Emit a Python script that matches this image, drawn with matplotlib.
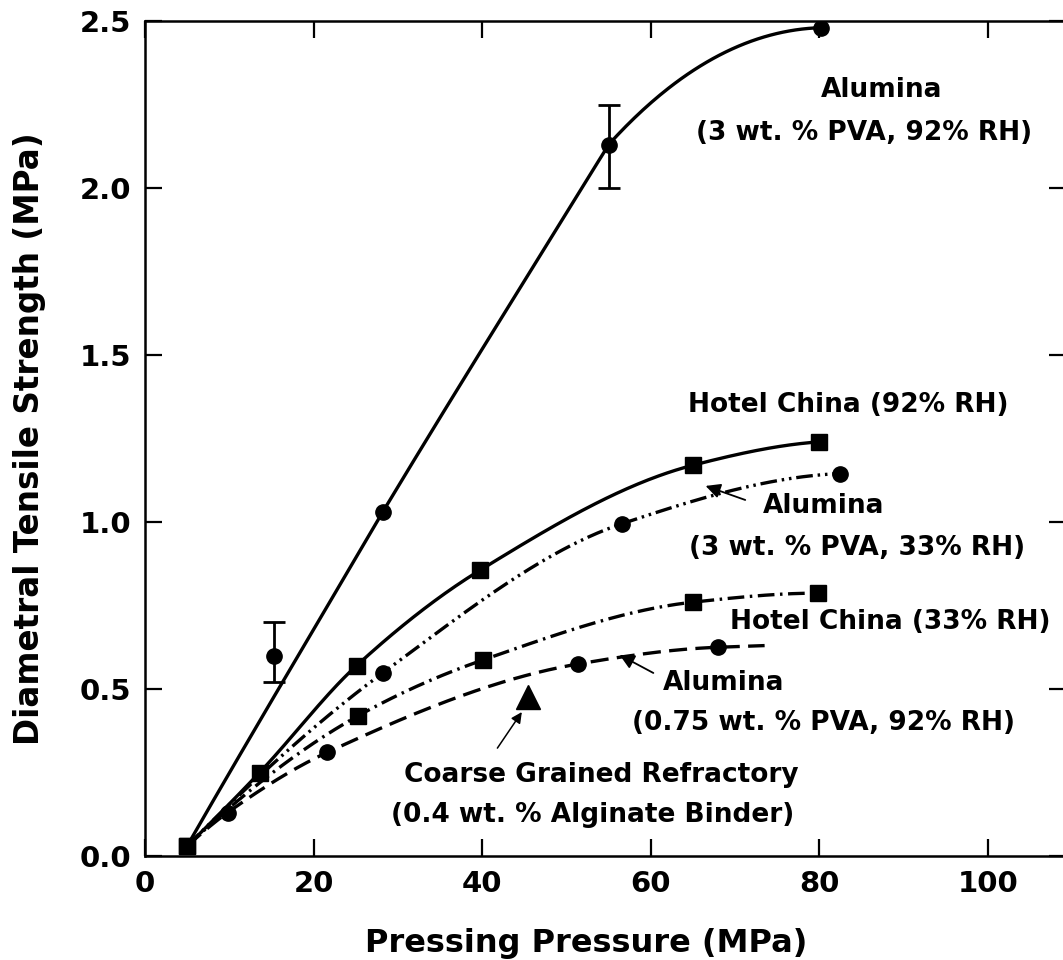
import numpy as np
import matplotlib.pyplot as plt

# Alumina (3 wt. % PVA, 92% RH)
al92_p = [5, 15.3, 28.2, 55.0, 80.2]
al92_s = [0.03, 0.60, 1.03, 2.13, 2.48]
al92_lo = [0, 0.08, 0, 0.13, 0]
al92_hi = [0, 0.10, 0, 0.12, 0]
al92_curve = [0, 2, 3, 4]          # points the drawn curve goes through

# Hotel China (92% RH)
hc92_p = [5, 13.6, 25.1, 39.7, 65.0, 80.0]
hc92_s = [0.03, 0.25, 0.57, 0.855, 1.17, 1.24]

# Alumina (3 wt. % PVA, 33% RH)
al33_p = [5, 28.2, 56.6, 82.4]
al33_s = [0.03, 0.548, 0.995, 1.145]

# Hotel China (33% RH)
hc33_p = [5, 25.3, 40.1, 65.0, 79.8]
hc33_s = [0.03, 0.42, 0.587, 0.76, 0.787]

# Alumina (0.75 wt. % PVA, 92% RH)
al075_p = [5, 9.8, 21.6, 51.4, 68.0]
al075_s = [0.03, 0.13, 0.31, 0.575, 0.625]
al075_end = 73.5

# Coarse grained refractory (0.4 wt. % alginate binder)
cgr_p = [45.4]
cgr_s = [0.476]


def smooth(x, y, xs, knee=False):
    """Monotone cubic through (x, y), linear past the last point.
    knee: each segment arrives with its own chord slope and leaves with the
    central slope, so a straight run can bend right at a data point."""
    x = np.asarray(x, float)
    y = np.asarray(y, float)
    xs = np.asarray(xs, float)
    h = np.diff(x)
    m = np.diff(y) / h
    n = len(x)

    def end(h0, h1, m0, m1):
        e = ((2 * h0 + h1) * m0 - h0 * m1) / (h0 + h1)
        if np.sign(e) != np.sign(m0):
            e = 0.0
        elif np.sign(m0) != np.sign(m1) and abs(e) > abs(3 * m0):
            e = 3 * m0
        return e

    d = np.zeros(n)
    for k in range(1, n - 1):
        if knee:
            d[k] = (y[k + 1] - y[k - 1]) / (x[k + 1] - x[k - 1])
        elif m[k - 1] * m[k] > 0:
            w1 = 2 * h[k] + h[k - 1]
            w2 = h[k] + 2 * h[k - 1]
            d[k] = (w1 + w2) / (w1 / m[k - 1] + w2 / m[k])
    d[0] = end(h[0], h[1], m[0], m[1])
    d[-1] = end(h[-1], h[-2], m[-1], m[-2])

    d_start = d[:-1].copy()
    d_end = d[1:].copy()
    if knee:
        d_end[:-1] = m[:-1]

    i = np.clip(np.searchsorted(x, xs) - 1, 0, n - 2)
    t = np.clip((xs - x[i]) / h[i], 0, 1)
    ys = ((2 * t**3 - 3 * t**2 + 1) * y[i] + (t**3 - 2 * t**2 + t) * h[i] * d_start[i]
          + (-2 * t**3 + 3 * t**2) * y[i + 1] + (t**3 - t**2) * h[i] * d_end[i])
    past = xs > x[-1]
    ys[past] = y[-1] + d[-1] * (xs[past] - x[-1])
    return ys


def curve(ax, p, s, x_end=None, knee=False, **kw):
    x_end = p[-1] if x_end is None else x_end
    xs = np.linspace(p[0], x_end, 300)
    ax.plot(xs, smooth(p, s, xs, knee), color='black', lw=2.4,
            solid_capstyle='butt', dash_capstyle='butt', **kw)


plt.rcParams['font.family'] = ['DejaVu Sans']
plt.rcParams['lines.scale_dashes'] = False

fig = plt.figure(figsize=(10.63, 9.6), dpi=100)
ax = fig.add_axes([145 / 1063, 104 / 960, 921 / 1063, 835 / 960])

dash_dot_dot = (0, (12, 3.5, 1.8, 3.5, 1.8, 3.5))
dash_dot = (0, (12, 4, 1.8, 4))
dashed = (0, (13, 6))

# curves
curve(ax, [al92_p[i] for i in al92_curve], [al92_s[i] for i in al92_curve],
      knee=True, ls='-')
curve(ax, hc92_p, hc92_s, ls='-')
curve(ax, al33_p, al33_s, ls=dash_dot_dot)
curve(ax, hc33_p, hc33_s, ls=dash_dot)
curve(ax, al075_p, al075_s, x_end=al075_end, ls=dashed)

# markers
ax.plot(al92_p, al92_s, 'o', color='black', ms=11)
has_err = [i for i in range(len(al92_p)) if al92_lo[i] + al92_hi[i] > 0]
ax.errorbar([al92_p[i] for i in has_err], [al92_s[i] for i in has_err],
            yerr=[[al92_lo[i] for i in has_err], [al92_hi[i] for i in has_err]],
            fmt='none', ecolor='black', elinewidth=2, capsize=8, capthick=2)
ax.plot(hc92_p, hc92_s, 's', color='black', ms=11)
ax.plot(al33_p, al33_s, 'o', color='black', ms=11)
ax.plot(hc33_p, hc33_s, 's', color='black', ms=11)
ax.plot(al075_p, al075_s, 'o', color='black', ms=11)
ax.plot(cgr_p, cgr_s, '^', color='black', ms=17)

# labels
txt = dict(fontsize=19, fontweight='bold', ha='center', va='center')
ax.text(87.4, 2.293, 'Alumina', **txt)
ax.text(85.3, 2.165, '(3 wt. % PVA, 92% RH)', **txt)
ax.text(83.4, 1.350, 'Hotel China (92% RH)', **txt)
ax.text(80.5, 1.048, 'Alumina', **txt)
ax.text(84.5, 0.922, '(3 wt. % PVA, 33% RH)', **txt)
ax.text(88.4, 0.700, 'Hotel China (33% RH)', **txt)
ax.text(68.6, 0.518, 'Alumina', **txt)
ax.text(80.5, 0.398, '(0.75 wt. % PVA, 92% RH)', **txt)
ax.text(54.1, 0.2425, 'Coarse Grained Refractory', **txt)
ax.text(53.1, 0.123, '(0.4 wt. % Alginate Binder)', **txt)

arrow = dict(arrowstyle='-|>', color='black', lw=1.3, mutation_scale=22,
             shrinkA=0, shrinkB=0)
ax.annotate('', xy=(66.5, 1.108), xytext=(71.2, 1.066), arrowprops=arrow)
ax.annotate('', xy=(56.3, 0.602), xytext=(60.3, 0.548), arrowprops=arrow)
ax.annotate('', xy=(44.7, 0.431), xytext=(41.8, 0.323),
            arrowprops=dict(arrow, mutation_scale=16, lw=1.1))

ax.set_xlim(0, 109.25)
ax.set_ylim(0, 2.5)
ax.set_xticks([0, 20, 40, 60, 80, 100])
ax.set_yticks([0.0, 0.5, 1.0, 1.5, 2.0, 2.5])
ax.set_yticklabels(['0.0', '0.5', '1.0', '1.5', '2.0', '2.5'])
ax.tick_params(direction='in', length=12, width=1.6, top=True, right=True,
               labelsize=21)
ax.tick_params(axis='y', pad=10)
ax.tick_params(axis='x', pad=10)
for lab in ax.get_xticklabels() + ax.get_yticklabels():
    lab.set_fontweight('bold')
for sp in ax.spines.values():
    sp.set_linewidth(1.8)

ax.set_xlabel('Pressing Pressure (MPa)', fontsize=23, fontweight='bold')
ax.xaxis.set_label_coords(0.479, -0.086)
ax.set_ylabel('Diametral Tensile Strength (MPa)', fontsize=23.5, fontweight='bold',
              labelpad=24)

fig.savefig('out.png', dpi=100)
